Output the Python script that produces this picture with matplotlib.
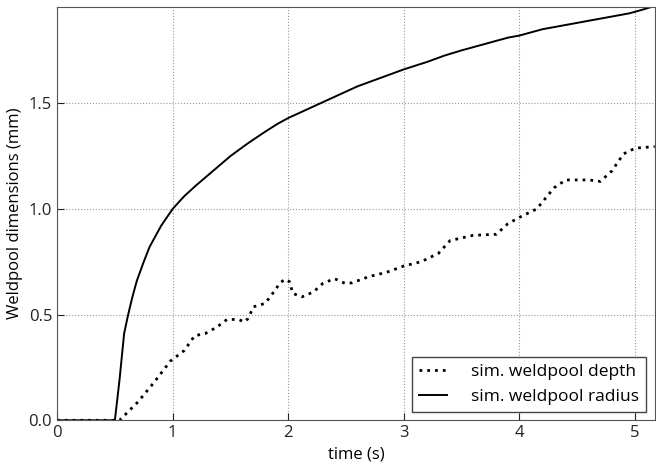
import matplotlib
matplotlib.use("Agg")
import matplotlib.pyplot as plt

plt.rcParams['font.family'] = ['Open Sans', 'DejaVu Sans']

# simulated weldpool radius (mm) over time (s)
t_radius = [0.0, 0.3, 0.5, 0.54, 0.58, 0.615, 0.65, 0.69, 0.75, 0.8, 0.9, 1.0, 1.1, 1.2,
            1.35, 1.5, 1.65, 1.8, 1.9, 2.0, 2.2, 2.4, 2.6, 2.8, 3.0, 3.2, 3.35, 3.5,
            3.7, 3.9, 4.0, 4.2, 4.4, 4.6, 4.8, 4.95, 5.05, 5.17]
radius = [0.0, 0.0, 0.0, 0.19, 0.41, 0.5, 0.58, 0.66, 0.75, 0.82, 0.92, 1.0, 1.06, 1.11,
          1.18, 1.25, 1.31, 1.365, 1.40, 1.43, 1.48, 1.53, 1.58, 1.62, 1.66, 1.695, 1.725,
          1.75, 1.78, 1.81, 1.82, 1.85, 1.87, 1.89, 1.91, 1.925, 1.94, 1.96]

# simulated weldpool depth (mm) over time (s)
t_depth = [0.0, 0.3, 0.54, 0.7, 0.84, 0.98, 1.1, 1.19, 1.28, 1.38, 1.47, 1.57, 1.62,
           1.65, 1.7, 1.8, 1.865, 1.93, 1.97, 2.01, 2.04, 2.12, 2.22, 2.3, 2.4, 2.49,
           2.55, 2.7, 2.85, 3.0, 3.15, 3.3, 3.4, 3.6, 3.8, 3.9, 4.0, 4.15, 4.3, 4.4,
           4.6, 4.7, 4.8, 4.9, 5.0, 5.17]
depth = [0.0, 0.0, 0.0, 0.087, 0.18, 0.28, 0.33, 0.40, 0.41, 0.44, 0.477, 0.477, 0.465,
         0.48, 0.537, 0.553, 0.60, 0.65, 0.667, 0.656, 0.60, 0.584, 0.608, 0.648, 0.67, 0.648,
         0.65, 0.68, 0.70, 0.73, 0.75, 0.79, 0.85, 0.875, 0.88, 0.93, 0.96, 1.0, 1.10, 1.137,
         1.137, 1.13, 1.18, 1.26, 1.287, 1.295]

fig = plt.figure(figsize=(6.56, 4.67), dpi=100)
ax = fig.add_axes([0.087, 0.1, 0.911, 0.885])

ax.plot(t_depth, depth, color='k', linestyle=(0, (1, 1.8)), linewidth=2.0, label='sim. weldpool depth')
ax.plot(t_radius, radius, color='k', linestyle='-', linewidth=1.4, label='sim. weldpool radius')

ax.set_xlim(0, 5.17)
ax.set_ylim(0, 1.955)
ax.set_xticks([0, 1, 2, 3, 4, 5])
ax.set_yticks([0.0, 0.5, 1.0, 1.5])
ax.set_yticklabels(['0.0', '0.5', '1.0', '1.5'])
ax.tick_params(direction='in', length=5, labelsize=12, colors='#222222')
ax.grid(True, linestyle=':', color='#999999', linewidth=0.8)
for s in ax.spines.values():
    s.set_color('#555555')
ax.set_xlabel('time (s)', fontsize=12)
ax.set_ylabel('Weldpool dimensions (mm)', fontsize=12)

leg = ax.legend(loc='lower right', fontsize=12.5, fancybox=False, edgecolor='#444444',
                framealpha=1, borderaxespad=0.5, handlelength=1.6, handletextpad=1.4)
leg.get_frame().set_linewidth(1.0)

fig.savefig('out.png', dpi=100)
